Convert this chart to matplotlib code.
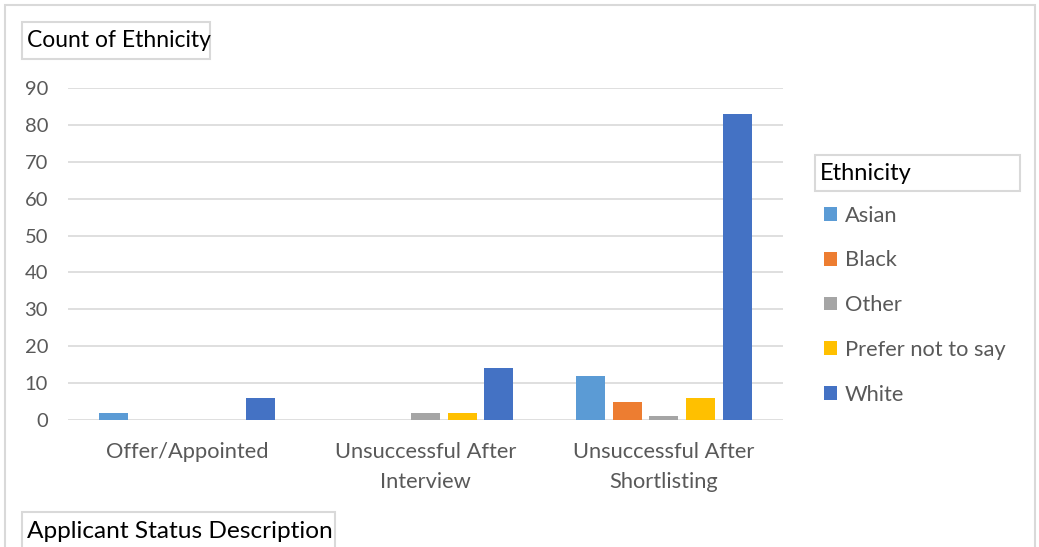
import numpy as np
import matplotlib
matplotlib.use('Agg')
import matplotlib.pyplot as plt
from matplotlib.patches import Rectangle

# data
categories = ['Offer/Appointed', 'Unsuccessful After\nInterview', 'Unsuccessful After\nShortlisting']
series_names = ['Asian', 'Black', 'Other', 'Prefer not to say', 'White']
asian = [2, 0, 12]
black = [0, 0, 5]
other = [0, 2, 1]
prefer_not = [0, 2, 6]
white = [6, 14, 83]
series_values = [asian, black, other, prefer_not, white]
colors = ['#5b9bd5', '#ed7d31', '#a5a5a5', '#ffc000', '#4472c4']
yticks = list(range(0, 100, 10))

plt.rcParams['font.family'] = ['Lato', 'DejaVu Sans']

W, H = 1039, 547
fig = plt.figure(figsize=(W / 100, H / 100), dpi=100)


def px_box(x0, y0, x1, y1):
    # pixel coords (top-left origin) -> figure fraction
    return x0 / W, 1 - y1 / H, (x1 - x0) / W, (y1 - y0) / H


# outer chart border
l, b, w, h = px_box(5, 5, 1035, 560)
fig.patches.append(Rectangle((l, b), w, h, transform=fig.transFigure,
                             fill=False, edgecolor='#d9d9d9', linewidth=1.5))

ax = fig.add_axes(px_box(68, 88, 783, 420))
x = np.arange(len(categories))
step = 0.154
bw = 0.122
for i, (name, vals, c) in enumerate(zip(series_names, series_values, colors)):
    ax.bar(x + (i - 2) * step, vals, width=bw, color=c, label=name, zorder=3)

ax.set_xlim(-0.5, len(categories) - 0.5)
ax.set_ylim(0, 90)
ax.set_yticks(yticks)
ax.yaxis.grid(True, color='#d9d9d9', linewidth=1.2, zorder=0)
for s in ax.spines.values():
    s.set_visible(False)
ax.tick_params(axis='both', length=0, colors='#595959')
ax.tick_params(axis='y', pad=14.4, labelsize=14.5)
ax.tick_params(axis='x', pad=16, labelsize=15.75)
ax.set_xticks(x)
ax.set_xticklabels(categories, linespacing=1.6)


# title boxes
def label_box(x0, y0, x1, y1, text, size):
    l, b, w, h = px_box(x0, y0, x1, y1)
    fig.patches.append(Rectangle((l, b), w, h, transform=fig.transFigure,
                                 fill=False, edgecolor='#d9d9d9', linewidth=1.5))
    fig.text(l + 5 / W, b + h / 2, text, ha='left', va='center',
             fontsize=size, color='black')


label_box(22, 22, 210, 59, 'Count of Ethnicity', 16.5)
label_box(22, 512, 335, 560, 'Applicant Status Description', 17.6)
label_box(815, 155, 1020, 191, 'Ethnicity', 17)
fig.texts[-2].set_y(1 - 531 / H)

# legend
leg = fig.legend(loc='upper left', bbox_to_anchor=(815 / W, 1 - 197 / H),
                 frameon=False, fontsize=15.75, labelcolor='#595959',
                 handlelength=0.6, handleheight=0.6, handletextpad=0.35,
                 labelspacing=1.13, borderaxespad=0)

plt.savefig('out.png', dpi=100, facecolor='white')
